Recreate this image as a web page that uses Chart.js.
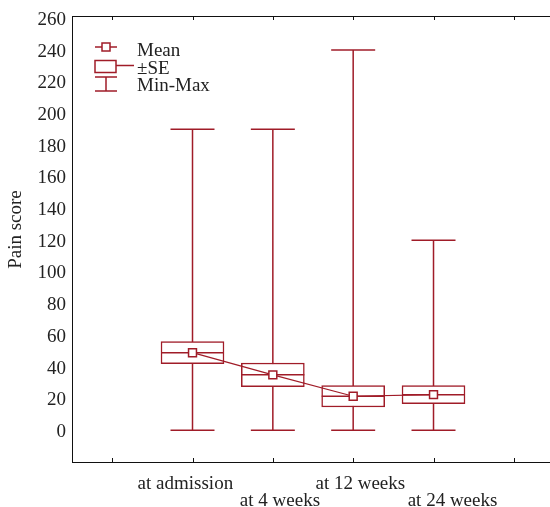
<!DOCTYPE html>
<html>
<head>
<meta charset="utf-8">
<script src="https://cdn.jsdelivr.net/npm/chart.js@4.4.1/dist/chart.umd.min.js"></script>
<style>
  body { margin:0; background:#fff; }
  #wrap { width:550px; height:507px; position:relative; }
</style>
</head>
<body>
<div id="wrap"><canvas id="painChart"></canvas></div>
<script>
//======================================
// Data
//======================================

const categories = ["at admission", "at 4 weeks", "at 12 weeks", "at 24 weeks"];
const means = [50, 36, 22.5, 23.5];
const se = [7, 7.5, 6.8, 5.7];
const mins = [1, 1, 1, 1];
const maxs = [191, 191, 241, 121];
const yTicks = [0, 20, 40, 60, 80, 100, 120, 140, 160, 180, 200, 220, 240, 260];
const xTicks = [0, 1, 2, 3, 4, 5];

// labels in the original sit a little off their ticks, nudged with spaces
const labelNudge = [-3, 3, 3, 8];

const red = "#a01c28";
const serif = "'Liberation Serif', 'DejaVu Serif', serif";

//======================================
// Build datasets
//======================================

let whiskerPts = [];
let boxPts = [];
let meanPts = [];

categories.forEach((c, i) => {
    let x = i + 1;
    whiskerPts.push({x: x, y: mins[i]});
    whiskerPts.push({x: x, y: maxs[i]});
    whiskerPts.push({x: x, y: null});
    boxPts.push({x: x, y: [means[i] - se[i], means[i] + se[i]]});
    meanPts.push({x: x, y: means[i]});
});

function nudged(i){

    let n = labelNudge[i];
    let pad = " ".repeat(Math.abs(n));

    return n > 0 ? pad + categories[i] : categories[i] + pad;

}

//======================================
// Frame + legend plugin
//======================================

const framePlugin = {
    id: "frame",
    afterDraw(chart) {
        const ctx = chart.ctx;
        const a = chart.chartArea;
        const xs = chart.scales.x;

        ctx.save();
        ctx.strokeStyle = "#111";
        ctx.lineWidth = 1;
        ctx.beginPath();
        ctx.moveTo(a.left, a.top + 0.5);
        ctx.lineTo(a.right, a.top + 0.5);
        xTicks.forEach(v => {
            let px = Math.round(xs.getPixelForValue(v)) + 0.5;
            ctx.moveTo(px, a.bottom);
            ctx.lineTo(px, a.bottom - 4);
            ctx.moveTo(px, a.top);
            ctx.lineTo(px, a.top + 4);
        });
        ctx.stroke();

        // legend
        ctx.strokeStyle = red;
        ctx.lineWidth = 1.5;
        ctx.fillStyle = "#fff";

        ctx.beginPath();
        ctx.moveTo(95, 47); ctx.lineTo(117, 47);
        ctx.stroke();
        ctx.fillRect(102, 43, 8, 8);
        ctx.strokeRect(102, 43, 8, 8);

        ctx.strokeRect(95, 60.5, 21, 12);
        ctx.beginPath();
        ctx.moveTo(116, 65.5); ctx.lineTo(134, 65.5);
        ctx.moveTo(95, 77); ctx.lineTo(117, 77);
        ctx.moveTo(106, 77); ctx.lineTo(106, 91);
        ctx.moveTo(95, 91); ctx.lineTo(117, 91);
        ctx.stroke();

        ctx.fillStyle = "#222";
        ctx.font = "19px " + serif;
        ctx.textBaseline = "middle";
        ctx.fillText("Mean", 137, 51);
        ctx.fillText("\u00b1SE", 137, 69);
        ctx.fillText("Min-Max", 137, 86);
        ctx.restore();
    }
};

//======================================
// Chart
//======================================

new Chart(document.getElementById("painChart"), {
    type: "bar",
    data: {
        datasets: [
            {
                type: "line",
                data: whiskerPts,
                borderColor: red,
                borderWidth: 1.5,
                spanGaps: false,
                pointStyle: "line",
                pointRadius: 22,
                pointBorderColor: red,
                pointBorderWidth: 1.5,
                order: 4
            },
            {
                type: "bar",
                data: boxPts,
                backgroundColor: "#fff",
                borderColor: red,
                borderWidth: 1.5,
                borderSkipped: false,
                barThickness: 63,
                grouped: false,
                order: 3
            },
            {
                type: "line",
                data: meanPts,
                showLine: false,
                pointStyle: "line",
                pointRadius: 31.5,
                pointBorderColor: red,
                pointBorderWidth: 1.5,
                order: 2
            },
            {
                type: "line",
                data: meanPts,
                borderColor: red,
                borderWidth: 1.2,
                pointStyle: "rect",
                pointRadius: 5.6,
                pointBackgroundColor: "#fff",
                pointBorderColor: red,
                pointBorderWidth: 1.5,
                order: 1
            }
        ]
    },
    options: {
        responsive: true,
        maintainAspectRatio: false,
        animation: false,
        events: [],
        layout: { autoPadding: false, padding: { top: 16, right: 0, left: 0, bottom: 0 } },
        plugins: { legend: { display: false }, tooltip: { enabled: false } },
        scales: {
            x: {
                type: "linear",
                min: -0.5,
                max: 5.45,
                offset: false,
                grid: { display: false, drawTicks: false },
                border: { display: true, color: "#111", width: 1 },
                afterBuildTicks: ax => { ax.ticks = xTicks.map(v => ({value: v})); },
                afterFit: ax => {
                    ax.height = 45;
                    ax.paddingLeft = 0;
                    ax.paddingRight = 0;
                },
                ticks: {
                    autoSkip: false,
                    maxRotation: 0,
                    padding: 13,
                    color: "#222",
                    font: { family: serif, size: 19, lineHeight: 0.92 },
                    callback: v => {
                        let i = v - 1;
                        if (i < 0 || i >= categories.length) return "";
                        return i % 2 === 0 ? [nudged(i)] : ["", nudged(i)];
                    }
                }
            },
            y: {
                min: -19,
                max: 262.5,
                grid: { display: false, drawTicks: false },
                border: { display: true, color: "#111", width: 1 },
                afterBuildTicks: ax => { ax.ticks = yTicks.map(v => ({value: v})); },
                afterFit: ax => {
                    ax.width = 72;
                    ax.paddingTop = 0;
                    ax.paddingBottom = 0;
                },
                ticks: {
                    padding: 6,
                    color: "#222",
                    font: { family: serif, size: 19 }
                },
                title: {
                    display: true,
                    text: "    Pain score",
                    color: "#222",
                    font: { family: serif, size: 19 },
                    padding: { top: 5, bottom: 0 }
                }
            }
        }
    },
    plugins: [framePlugin]
});
</script>
</body>
</html>
